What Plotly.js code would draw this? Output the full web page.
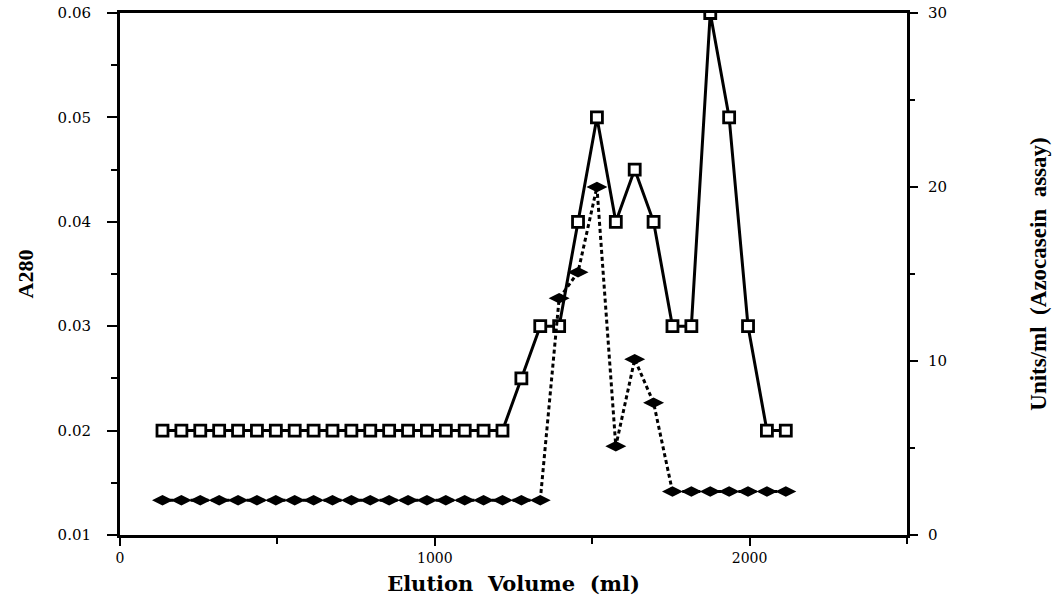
<!DOCTYPE html>
<html>
<head>
<meta charset="utf-8">
<script src="https://cdn.plot.ly/plotly-3.0.1.min.js"></script>
<style>html,body{margin:0;padding:0;background:#fff;}#chart{width:1059px;height:602px;}</style>
</head>
<body>
<div id="chart"></div>
<script>
// Elution volume (ml) of each fraction
const volume = [135, 195, 255, 315, 375, 435, 495, 555, 615, 675, 735, 795, 855, 915, 975, 1035, 1095, 1155, 1215,
                1275, 1335, 1395, 1455, 1515, 1575, 1635, 1695, 1755, 1815, 1875, 1935, 1995, 2055, 2115];
// A280 (left axis), open squares, solid line
const a280 = [0.02, 0.02, 0.02, 0.02, 0.02, 0.02, 0.02, 0.02, 0.02, 0.02, 0.02, 0.02, 0.02, 0.02, 0.02, 0.02, 0.02, 0.02, 0.02,
              0.025, 0.03, 0.03, 0.04, 0.05, 0.04, 0.045, 0.04, 0.03, 0.03, 0.06, 0.05, 0.03, 0.02, 0.02];
// Units/ml (Azocasein assay), right axis, filled diamonds, dotted line
const units = [2.0, 2.0, 2.0, 2.0, 2.0, 2.0, 2.0, 2.0, 2.0, 2.0, 2.0, 2.0, 2.0, 2.0, 2.0, 2.0, 2.0, 2.0, 2.0,
               2.0, 2.0, 13.6, 15.1, 20.0, 5.1, 10.1, 7.6, 2.5, 2.5, 2.5, 2.5, 2.5, 2.5, 2.5];

const xTicks = [0, 1000, 2000];
const yTicks = [0.01, 0.02, 0.03, 0.04, 0.05, 0.06];
const y2Ticks = [0, 10, 20, 30];

const tickFont = {family: 'DejaVu Serif, serif', size: 15, color: '#000'};

const traces = [
  {
    x: volume, y: units, yaxis: 'y2', type: 'scatter', mode: 'lines+markers',
    line: {color: '#000', width: 3, dash: '4px,3px'},
    marker: {symbol: 'diamond-wide', size: 15, color: '#000', line: {color: '#000', width: 0}},
    name: 'Units/ml', showlegend: false
  },
  {
    x: volume, y: a280, type: 'scatter', mode: 'lines+markers',
    line: {color: '#000', width: 3},
    marker: {symbol: 'square', size: 11, color: '#fff', line: {color: '#000', width: 2.8}},
    name: 'A280', showlegend: false
  }
];

const layout = {
  width: 1059, height: 602,
  margin: {l: 120, r: 152, t: 13, b: 67},
  paper_bgcolor: '#fff', plot_bgcolor: '#fff',
  showlegend: false,
  xaxis: {
    range: [0, 2500], tickvals: xTicks, ticktext: xTicks.map(String),
    ticks: 'outside', ticklen: 8, tickwidth: 2, tickcolor: '#000',
    minor: {dtick: 500, tick0: 0, ticks: 'outside', ticklen: 6, tickwidth: 2, tickcolor: '#000'},
    showline: true, linewidth: 3, linecolor: '#000', mirror: true,
    showgrid: false, zeroline: false,
    tickfont: {family: 'DejaVu Serif, serif', size: 14, color: '#000'},
    title: {text: '<b>Elution  Volume  (ml)</b>', font: {family: 'DejaVu Serif, serif', size: 21, color: '#000'}, standoff: 12}
  },
  yaxis: {
    range: [0.01, 0.06], tickvals: yTicks, ticktext: yTicks.map(v => v.toFixed(2)),
    ticks: 'outside', ticklen: 10, tickwidth: 2, tickcolor: '#000',
    ticklabelstandoff: 13,
    minor: {dtick: 0.005, tick0: 0.01, ticks: 'outside', ticklen: 6, tickwidth: 2, tickcolor: '#000'},
    showline: true, linewidth: 3, linecolor: '#000',
    showgrid: false, zeroline: false,
    tickfont: tickFont,
    title: {text: '<b>A280</b>', font: {family: 'Liberation Serif, Times New Roman, serif', size: 22, color: '#000'}, standoff: 18}
  },
  yaxis2: {
    overlaying: 'y', side: 'right',
    range: [0, 30], tickvals: y2Ticks, ticktext: y2Ticks.map(String),
    ticks: 'outside', ticklen: 8, tickwidth: 2, tickcolor: '#000',
    ticklabelstandoff: 7,
    minor: {dtick: 5, tick0: 0, ticks: 'outside', ticklen: 5, tickwidth: 2, tickcolor: '#000'},
    showline: true, linewidth: 3, linecolor: '#000',
    showgrid: false, zeroline: false,
    tickfont: tickFont,
    title: {text: '<b>Units/ml  (Azocasein  assay)</b>', font: {family: 'Liberation Serif, Times New Roman, serif', size: 23, color: '#000'}, standoff: 84}
  }
};

Plotly.newPlot('chart', traces, layout, {displayModeBar: false, staticPlot: true});
</script>
</body>
</html>
